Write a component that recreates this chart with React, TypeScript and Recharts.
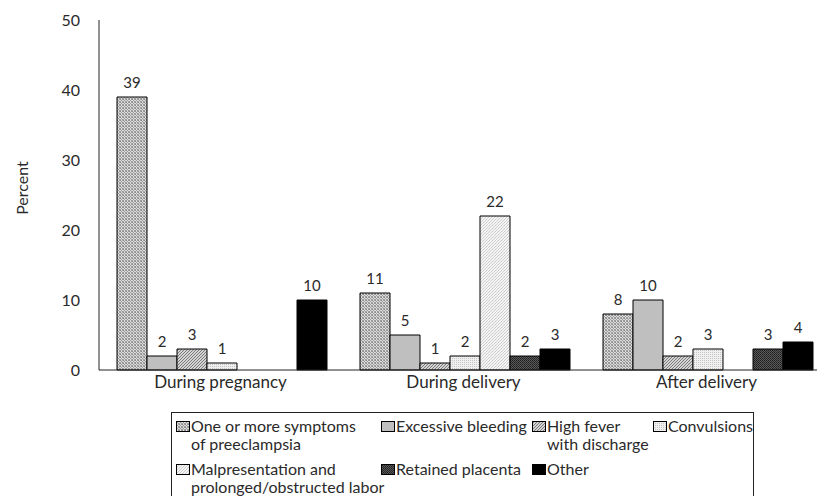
import React from 'react';
import { BarChart, Bar, XAxis, YAxis, Legend, LabelList } from 'recharts';

const categories = ['During pregnancy', 'During delivery', 'After delivery'];

const seriesNames = [
  'One or more symptoms\nof preeclampsia',
  'Excessive bleeding',
  'High fever\nwith discharge',
  'Convulsions',
  'Malpresentation and\nprolonged/obstructed labor',
  'Retained placenta',
  'Other',
];

const preeclampsia = [39, 11, 8];
const bleeding = [2, 5, 10];
const fever = [3, 1, 2];
const convulsions = [1, 2, 3];
const malpresentation = [null, 22, null];
const placenta = [null, 2, 3];
const other = [10, 3, 4];

const yTicks = [0, 10, 20, 30, 40, 50];

const seriesKeys = ['s1', 's2', 's3', 's4', 's5', 's6', 's7'];
const seriesValues = [preeclampsia, bleeding, fever, convulsions, malpresentation, placenta, other];
const fills = ['url(#p1)', 'url(#p2)', 'url(#p3)', 'url(#p4)', 'url(#p5)', 'url(#p6)', '#000'];

const data = categories.map((name, i) => {
  const row: Record<string, any> = { name };
  seriesKeys.forEach((k, j) => {
    row[k] = seriesValues[j][i];
  });
  return row;
});

const FONT = 'Lato, "Open Sans", sans-serif';
const INK = '#2a2a2a';

// legend swatches use the same patterns, drawn as tiny svgs
function Swatch({ idx }: { idx: number }) {
  return (
    <svg width={14} height={11} style={{ flex: 'none', marginTop: 4 }}>
      <PatternDefs prefix="lg" />
      <rect x={0.5} y={0.5} width={13} height={10} fill={fills[idx].replace('#p', '#lgp')} stroke="#000" />
    </svg>
  );
}

function PatternDefs({ prefix = '' }: { prefix?: string }) {
  return (
    <defs>
      <pattern id={prefix + 'p1'} width={3} height={3} patternUnits="userSpaceOnUse">
        <rect width={3} height={3} fill="#dcdcdc" />
        <rect width={1} height={1} fill="#8a8a8a" />
        <rect x={2} y={0} width={1} height={1} fill="#a0a0a0" />
        <rect x={1} y={1} width={1} height={1} fill="#9a9a9a" />
        <rect x={0} y={2} width={1} height={1} fill="#a0a0a0" />
        <rect x={2} y={2} width={1} height={1} fill="#9a9a9a" />
      </pattern>
      <pattern id={prefix + 'p2'} width={2} height={2} patternUnits="userSpaceOnUse">
        <rect width={2} height={2} fill="#bfbfbf" />
      </pattern>
      <pattern id={prefix + 'p3'} width={3} height={3} patternUnits="userSpaceOnUse">
        <rect width={3} height={3} fill="#d4d4d4" />
        <rect x={0} y={2} width={1} height={1} fill="#7a7a7a" />
        <rect x={1} y={1} width={1} height={1} fill="#7a7a7a" />
        <rect x={2} y={0} width={1} height={1} fill="#7a7a7a" />
      </pattern>
      <pattern id={prefix + 'p4'} width={2} height={2} patternUnits="userSpaceOnUse">
        <rect width={2} height={2} fill="#f0f0f0" />
        <rect width={1} height={1} fill="#c4c4c4" />
      </pattern>
      <pattern id={prefix + 'p5'} width={3} height={3} patternUnits="userSpaceOnUse">
        <rect width={3} height={3} fill="#f4f4f4" />
        <rect x={0} y={0} width={1} height={1} fill="#c8c8c8" />
        <rect x={2} y={1} width={1} height={1} fill="#d0d0d0" />
        <rect x={1} y={2} width={1} height={1} fill="#d0d0d0" />
      </pattern>
      <pattern id={prefix + 'p6'} width={2} height={2} patternUnits="userSpaceOnUse">
        <rect width={2} height={2} fill="#5a5a5a" />
        <rect width={1} height={1} fill="#1e1e1e" />
        <rect x={1} y={1} width={1} height={1} fill="#2a2a2a" />
      </pattern>
    </defs>
  );
}

function LegendBox() {
  return (
    <div
      style={{
        boxSizing: 'border-box',
        width: 583,
        height: 90,
        border: '1px solid #222',
        padding: '4px 0 0 4px',
        display: 'grid',
        gridTemplateColumns: '205px 151px 121px auto',
        rowGap: 2,
        fontFamily: FONT,
        fontSize: 16,
        lineHeight: '18px',
        color: INK,
        textAlign: 'left',
      }}
    >
      {seriesNames.map((label, i) => (
        <div key={i} style={{ display: 'flex', alignItems: 'flex-start' }}>
          <Swatch idx={i} />
          <div style={{ marginLeft: 1, whiteSpace: 'nowrap' }}>
            {label.split('\n').map((line, j) => (
              <div key={j}>{line}</div>
            ))}
          </div>
        </div>
      ))}
    </div>
  );
}

const hideZero = (v: any) => (v === null || v === undefined ? '' : v);

export default function App() {
  return (
    <div style={{ position: 'absolute', left: 0, top: 0, width: 817, height: 496, overflow: 'hidden', background: '#fff' }}>
      <BarChart
        width={840}
        height={496}
        data={data}
        margin={{ top: 20, right: 12, left: 0, bottom: 96 }}
        barCategoryGap={18}
        barGap={0}
      >
        <PatternDefs />
        <XAxis
          dataKey="name"
          axisLine={{ stroke: '#222', strokeWidth: 1 }}
          tickLine={false}
          tickSize={0}
          tickMargin={6}
          height={30}
          tick={{ fontSize: 17, fill: INK, fontFamily: FONT }}
        />
        <YAxis
          domain={[0, 50]}
          ticks={yTicks}
          width={99}
          axisLine={{ stroke: '#222', strokeWidth: 1 }}
          tickLine={false}
          tickSize={0}
          tickMargin={19}
          tick={{ fontSize: 16, fill: INK, fontFamily: FONT }}
          label={{
            value: 'Percent',
            angle: -90,
            position: 'insideLeft',
            offset: 22,
            dy: -7,
            style: { fontSize: 16, fill: INK, fontFamily: FONT, textAnchor: 'middle' },
          }}
        />
        <Legend
          layout="horizontal"
          verticalAlign="middle"
          align="center"
          wrapperStyle={{ left: 171, top: 412, width: 583, height: 90 }}
          content={() => <LegendBox />}
        />
        {seriesKeys.map((k, i) => (
          <Bar key={k} dataKey={k} fill={fills[i]} stroke="#000" strokeWidth={1} isAnimationActive={false}>
            <LabelList
              dataKey={k}
              position="top"
              offset={9}
              formatter={hideZero}
              style={{ fontSize: 15, fill: INK, fontFamily: FONT }}
            />
          </Bar>
        ))}
      </BarChart>
    </div>
  );
}
